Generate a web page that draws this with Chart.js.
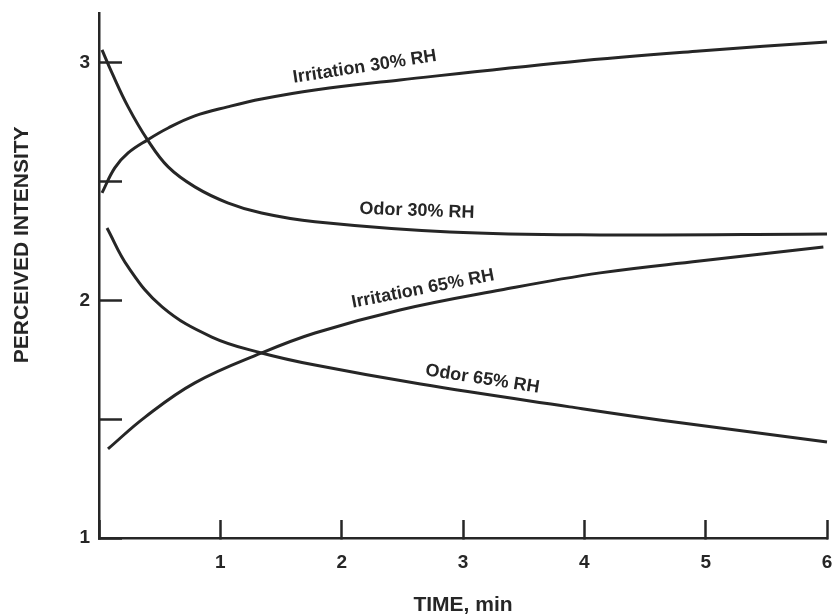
<!DOCTYPE html>
<html>
<head>
<meta charset="utf-8">
<script src="https://cdn.jsdelivr.net/npm/chart.js@4.4.0/dist/chart.umd.min.js"></script>
<style>
  body { margin: 0; background: #fff; }
  #wrap { width: 834px; height: 614px; }
</style>
</head>
<body>
<div id="wrap"><canvas id="intensityChart"></canvas></div>
<script>
// time (min) and perceived intensity along each curve
var irr30Time = [0.025, 0.13, 0.24, 0.40, 0.57, 0.79, 1.06, 1.34, 1.78, 2.48, 3.88, 4.95, 6.0];
var irr30Vals = [2.453, 2.558, 2.621, 2.676, 2.726, 2.777, 2.815, 2.848, 2.886, 2.928, 3.004, 3.05, 3.088];

var odor30Time = [0.025, 0.107, 0.24, 0.40, 0.57, 0.79, 1.06, 1.34, 1.78, 2.89, 4.13, 6.0];
var odor30Vals = [3.055, 2.958, 2.815, 2.676, 2.562, 2.478, 2.411, 2.368, 2.331, 2.288, 2.276, 2.28];

var irr65Time = [0.074, 0.38, 0.79, 1.34, 1.78, 2.48, 3.31, 4.13, 4.95, 5.97];
var irr65Vals = [1.375, 1.509, 1.653, 1.779, 1.863, 1.96, 2.044, 2.116, 2.166, 2.225];

var odor65Time = [0.066, 0.24, 0.52, 0.93, 1.34, 1.78, 2.65, 3.88, 4.62, 6.0];
var odor65Vals = [2.305, 2.141, 1.973, 1.846, 1.779, 1.728, 1.648, 1.552, 1.497, 1.404];

var curveNames = ["Irritation 30% RH", "Odor 30% RH", "Irritation 65% RH", "Odor 65% RH"];
var xTickLabels = [1, 2, 3, 4, 5, 6];
var yTickLabels = [1, 2, 3];

var ink = '#262626';
var face = '"Liberation Sans", Arial, sans-serif';

function toPoints(xs, ys) {
  return xs.map(function (x, i) { return { x: x, y: ys[i] }; });
}

function curve(label, xs, ys) {
  return {
    label: label,
    data: toPoints(xs, ys),
    borderColor: ink,
    borderWidth: 3,
    pointRadius: 0,
    tension: 0.4,
    clip: false
  };
}

// scales keep a fixed size and no extra edge padding for their labels
function fixSize(w, h) {
  return function (s) {
    if (w) s.width = w;
    if (h) s.height = h;
    s.paddingTop = 0;
    s.paddingBottom = 0;
    s.paddingLeft = 0;
    s.paddingRight = 0;
  };
}

// captions written along the curves (anchor in data units, tilt in degrees)
var captions = [
  { text: curveNames[0], x: 2.19, y: 2.983, angle: -8.7 },
  { text: curveNames[1], x: 2.62, y: 2.377, angle: 2 },
  { text: curveNames[2], x: 2.67, y: 2.048, angle: -11 },
  { text: curveNames[3], x: 3.16, y: 1.669, angle: 8.8 }
];

var captionPlugin = {
  id: 'captions',
  afterDatasetsDraw: function (chart) {
    var c = chart.ctx, xs = chart.scales.x, ys = chart.scales.y;
    c.save();
    c.fillStyle = ink;
    c.textAlign = 'center';
    c.textBaseline = 'middle';
    c.font = 'bold 18px ' + face;
    captions.forEach(function (cap) {
      c.save();
      c.translate(xs.getPixelForValue(cap.x), ys.getPixelForValue(cap.y));
      c.rotate(cap.angle * Math.PI / 180);
      c.fillText(cap.text, 0, 0);
      c.restore();
    });
    // y axis title sits a little above the middle of the axis
    c.translate(22, ys.getPixelForValue(2.234));
    c.rotate(-Math.PI / 2);
    c.font = 'bold 21px ' + face;
    c.fillText('PERCEIVED INTENSITY', 0, 0);
    c.restore();
  }
};

var ctx = document.getElementById('intensityChart');

new Chart(ctx, {
  type: 'line',
  data: {
    datasets: [
      curve(curveNames[0], irr30Time, irr30Vals),
      curve(curveNames[1], odor30Time, odor30Vals),
      curve(curveNames[2], irr65Time, irr65Vals),
      curve(curveNames[3], odor65Time, odor65Vals)
    ]
  },
  options: {
    responsive: true,
    maintainAspectRatio: false,
    animation: false,
    layout: { padding: { top: 13, right: 7, left: 0, bottom: 0 } },
    plugins: {
      legend: { display: false },
      tooltip: { enabled: false }
    },
    scales: {
      x: {
        type: 'linear',
        min: 0,
        max: 6,
        afterFit: fixSize(0, 76),
        border: { color: ink, width: 2.5 },
        grid: { drawOnChartArea: false, tickLength: -18, tickWidth: 2.5, tickColor: ink },
        ticks: {
          stepSize: 1,
          padding: 31,
          color: ink,
          font: { family: face, size: 19, weight: 'bold' },
          callback: function (v) { return xTickLabels.indexOf(v) >= 0 ? String(v) : ''; }
        },
        title: {
          display: true,
          text: 'TIME, min',
          color: ink,
          font: { family: face, size: 21, weight: 'bold' },
          padding: { top: 0, bottom: -4 }
        }
      },
      y: {
        type: 'linear',
        min: 1,
        max: 3.21,
        afterFit: fixSize(99, 0),
        border: { color: ink, width: 2.5 },
        grid: { drawOnChartArea: false, tickLength: -23, tickWidth: 2.5, tickColor: ink },
        ticks: {
          stepSize: 0.5,
          includeBounds: false,
          padding: 32,
          color: ink,
          font: { family: face, size: 19, weight: 'bold' },
          callback: function (v) { return yTickLabels.indexOf(v) >= 0 ? String(v) : ''; }
        }
      }
    }
  },
  plugins: [captionPlugin]
});
</script>
</body>
</html>
